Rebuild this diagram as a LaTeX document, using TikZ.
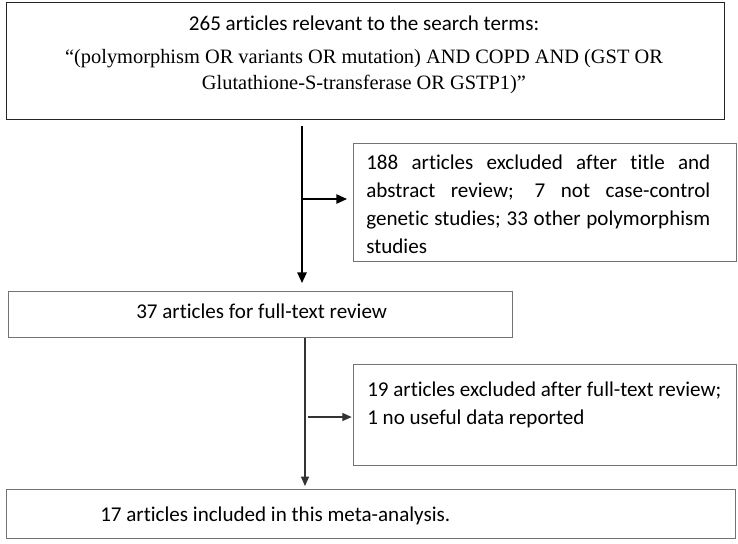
\documentclass[tikz,border=0pt]{standalone}
\usepackage{fontspec}
\setmainfont{Carlito}[Ligatures=NoCommon]
\newfontfamily\serifpart{Liberation Serif}
\usetikzlibrary{calc,arrows.meta}

\begin{document}
\begin{tikzpicture}[x=0.75pt,y=-0.75pt]
    % `frame' is an empty box, its text is set by a `txt' node on top.
    % `flow' is used for the arrows between the boxes.
    \tikzset{frame/.style={draw=black!55,line width=0.9pt,anchor=north west,inner sep=0pt},
             txt/.style={inner sep=0pt,font=\fontsize{15.8}{21}\selectfont},
             flow/.style={-{Triangle[length=8pt,width=7pt]},line width=1.4pt},
             thinflow/.style={-{Triangle[length=7pt,width=6pt]},line width=0.8pt,draw=black!80,fill=black}}
    \useasboundingbox (0,0) rectangle (738,543);
    %
    \node[frame,draw=black!85,minimum width=538.5pt,minimum height=87.75pt] (search) at (6,2) {};
    \node[frame,minimum width=287.25pt,minimum height=88.5pt] (excl1) at (353,143) {};
    \node[frame,minimum width=378pt,minimum height=34.5pt] (fulltext) at (8,291) {};
    \node[frame,minimum width=287.25pt,minimum height=75.75pt] (excl2) at (353,364) {};
    \node[frame,minimum width=546.75pt,minimum height=36.75pt] (included) at (6,489) {};
    %
    \node[txt,anchor=base] (searchhead) at (364,30) {265 articles relevant to the search terms:};
    \node[txt,anchor=base,align=center,font=\serifpart\fontsize{15.3}{19.5}\selectfont] (terms) at (364,89)
      {“(polymorphism OR variants OR mutation) AND COPD AND (GST OR\\
       Glutathione-S-transferase OR GSTP1)”};
    \node[txt,anchor=base west,text width=258pt,align=justify] (excl1txt) at (366,169)
      {188 articles excluded after title and\linebreak abstract review; 7 not case-control\linebreak
       genetic studies; 33 other polymorphism\linebreak studies};
    \node[txt,anchor=base west] (fulltexttxt) at (136,318) {37 articles for full-text review};
    \node[txt,anchor=base west,align=left] (excl2txt) at (367,424)
      {19 articles excluded after full-text review;\\1 no useful data reported};
    \node[txt,anchor=base west] (includedtxt) at (100,521) {17 articles included in this meta-analysis.};
    %
    % Draw arrows.
    \coordinate (split1) at (302,199);
    \coordinate (split2) at (305,417);
    \draw[flow,shorten <=4.5pt,shorten >=6pt] (search.south -| split1) -- (fulltext.north -| split1);
    \draw[flow,line width=1.1pt,shorten >=4.5pt] (split1) -- (excl1.west |- split1);
    \draw[thinflow,shorten >=2.25pt] (fulltext.south -| split2) -- (included.north -| split2);
    \draw[thinflow,shorten <=2.25pt,shorten >=1pt] (split2) -- (excl2.west |- split2);
\end{tikzpicture}
\end{document}
